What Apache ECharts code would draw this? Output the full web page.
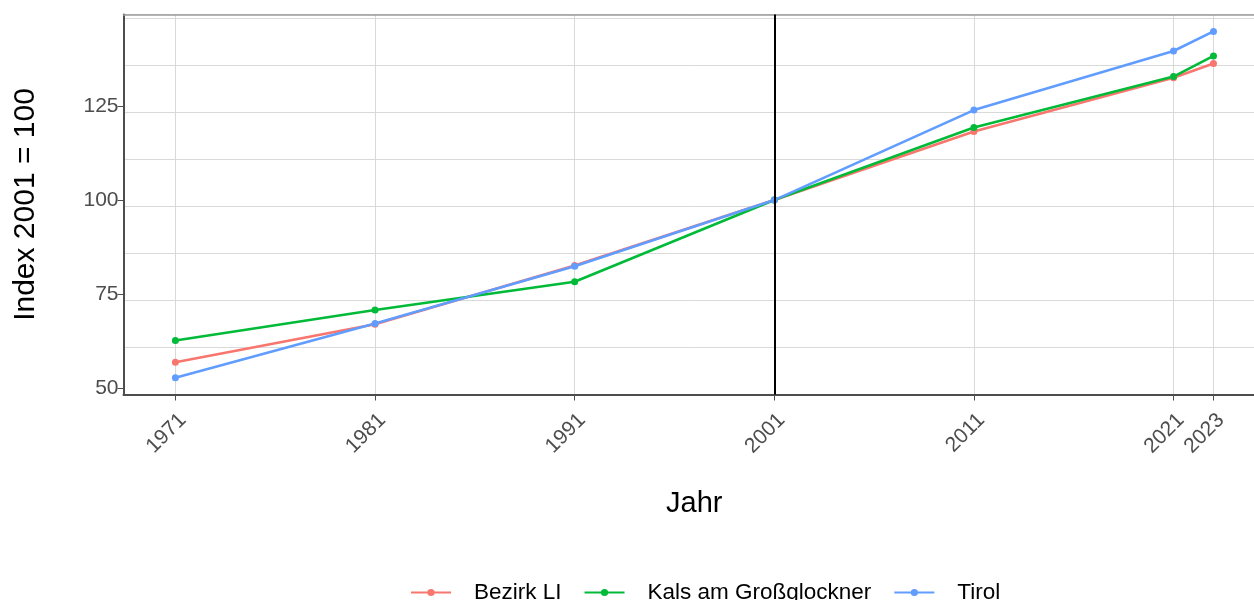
<!DOCTYPE html>
<html>
<head>
<meta charset="utf-8">
<script src="https://cdn.jsdelivr.net/npm/echarts@6/dist/echarts.min.js"></script>
<style>
  html, body { margin: 0; padding: 0; background: #fff; }
  #main { width: 1254px; height: 600px; }
</style>
</head>
<body>
<div id="main"></div>
<script>
// Jahre (x-Achse) und Indexwerte, 2001 = 100
var years = [1971, 1981, 1991, 2001, 2011, 2021, 2023];
var bezirkLI = [56.9, 67.0, 82.6, 100, 118.2, 132.5, 136.3];
var kals = [62.7, 70.8, 78.3, 100, 119.3, 132.8, 138.3];
var tirol = [52.8, 67.2, 82.4, 100, 123.9, 139.6, 144.8];
var yTicks = [50, 75, 100, 125];
var seriesNames = ['Bezirk LI', 'Kals am Großglockner', 'Tirol'];
var seriesColors = ['#F8766D', '#00BA38', '#619CFF'];

var fontFam = '"Liberation Sans", Arial, sans-serif';

function pairs(vals)
{
    var out = [];
    for (var i = 0; i < years.length; i++) {
        out.push([years[i], vals[i]]);
    }
    return out;
}

function makeSeries(name, color, vals)
{
    return {
        name: name,
        type: 'line',
        xAxisIndex: 0,
        yAxisIndex: 0,
        data: pairs(vals),
        symbol: 'circle',
        symbolSize: 7,
        color: color,
        lineStyle: { width: 2.6, color: color },
        itemStyle: { color: color },
        emphasis: { disabled: true },
        animation: false
    };
}

var series = [
    makeSeries(seriesNames[0], seriesColors[0], bezirkLI),
    makeSeries(seriesNames[1], seriesColors[1], kals),
    makeSeries(seriesNames[2], seriesColors[2], tirol)
];
// senkrechte Linie beim Basisjahr 2001
series[0].markLine = {
    silent: true,
    symbol: ['none', 'none'],
    label: { show: false },
    lineStyle: { color: '#000', width: 2, type: 'solid' },
    data: [{ xAxis: 2001 }]
};

var myChart = echarts.init(document.getElementById('main'));
myChart.setOption({
    animation: false,
    grid: {
        left: 123.5,
        right: 0,
        top: 14.5,
        bottom: 205.5
    },
    legend: {
        data: seriesNames,
        left: 405,
        top: 576,
        itemWidth: 40,
        itemHeight: 9,
        itemGap: 22,
        textStyle: { fontFamily: fontFam, fontSize: 22.5, color: '#000', padding: [0, 0, 0, 18] }
    },
    xAxis: [
        {
            type: 'value',
            min: 1968.4,
            max: 2025.03,
            name: 'Jahr',
            nameLocation: 'middle',
            nameGap: 95,
            nameTextStyle: { fontFamily: fontFam, fontSize: 29, color: '#000', padding: [0, 0, 0, 11] },
            axisLine: { show: true, onZero: false, lineStyle: { color: '#4d4d4d', width: 2 } },
            axisTick: { show: true, length: 6, customValues: years, lineStyle: { color: '#4d4d4d', width: 1 } },
            axisLabel: {
                customValues: years,
                rotate: 45,
                margin: 15,
                align: 'right',
                verticalAlign: 'top',
                fontFamily: fontFam,
                fontSize: 21,
                color: '#4d4d4d',
                formatter: function (v) { return String(v); }
            },
            splitLine: { show: true, lineStyle: { color: '#d9d9d9', width: 1 } }
        },
        {
            // obere Rahmenlinie
            type: 'value',
            position: 'top',
            min: 1968.4,
            max: 2025.03,
            axisLine: { show: true, onZero: false, lineStyle: { color: '#9a9a9a', width: 1.5 } },
            axisTick: { show: false },
            axisLabel: { show: false },
            splitLine: { show: false }
        }
    ],
    yAxis: [
        {
            type: 'value',
            min: 48.35,
            max: 149.3,
            interval: 25,
            name: 'Index 2001 = 100',
            nameLocation: 'middle',
            nameGap: 83,
            nameRotate: 90,
            nameTextStyle: { fontFamily: fontFam, fontSize: 30, color: '#000' },
            axisLine: { show: true, onZero: false, lineStyle: { color: '#4d4d4d', width: 2 } },
            axisTick: { show: true, length: 6, customValues: yTicks, lineStyle: { color: '#4d4d4d', width: 1 } },
            axisLabel: {
                customValues: yTicks,
                margin: 5,
                fontFamily: fontFam,
                fontSize: 21,
                color: '#4d4d4d'
            },
            splitLine: { show: false }
        },
        {
            // nur für die Gitterlinien (auch Zwischenlinien)
            type: 'value',
            min: 48.35,
            max: 149.3,
            interval: 12.5,
            position: 'left',
            axisLine: { show: false },
            axisTick: { show: false },
            axisLabel: { show: false },
            splitLine: { show: true, lineStyle: { color: '#d9d9d9', width: 1 } }
        }
    ],
    series: series
});
</script>
</body>
</html>
